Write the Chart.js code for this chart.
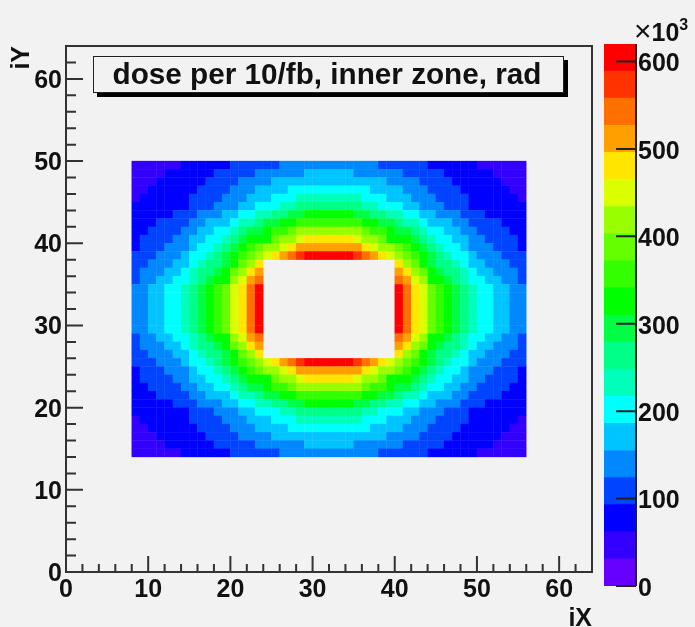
<!DOCTYPE html>
<html>
<head>
<meta charset="utf-8">
<script src="https://cdn.jsdelivr.net/npm/chart.js@4"></script>
<style>
  html, body { margin: 0; padding: 0; background: #f2f2f2; }
  #page { position: relative; width: 695px; height: 627px; overflow: hidden; filter: blur(0.6px); font-family: "Liberation Sans", Arial, sans-serif; font-weight: bold; color: #111; }
  canvas { position: absolute; }
  #mapTitle { position: absolute; left: 93px; top: 56px; width: 466px; height: 35px; padding-right: 3px; border: 1.5px solid #222; box-shadow: 4px 4px 0 #000; background: #f2f2f2; text-align: center; font-size: 29.7px; line-height: 33px; white-space: nowrap; }
  #barExponent { position: absolute; left: 634px; top: 19px; font-size: 25px; line-height: 26px; white-space: nowrap; }
  #barExponent span { font-weight: normal; font-size: 30px; line-height: 0; }
  #barExponent sup { font-size: 16px; line-height: 0; vertical-align: 11px; }
</style>
</head>
<body>
<div id="page">
  <canvas id="mapChart" width="695" height="627" style="left:0;top:0"></canvas>
  <canvas id="barChart" width="99" height="583" style="left:596px;top:20px"></canvas>
  <div id="mapTitle">dose per 10/fb, inner zone, rad</div>
  <div id="barExponent"><span>×</span>10<sup>3</sup></div>
</div>
<script>
// bin numbers along each axis
const ixBins = [8,9,10,11,12,13,14,15,16,17,18,19,20,21,22,23,24,25,26,27,28,29,30,31,32,33,34,35,36,37,38,39,40,41,42,43,44,45,46,47,48,49,50,51,52,53,54,55]
const iyBins = [49,48,47,46,45,44,43,42,41,40,39,38,37,36,35,34,33,32,31,30,29,28,27,26,25,24,23,22,21,20,19,18,17,16,15,14]

// dose in units of 10^3 rad, one row per iY (top row first), null = no crystal
const doseRows = [
[47,47,47,47,47,47,78,78,78,78,78,78,109,109,109,109,109,109,140,140,140,140,140,140,140,140,140,140,140,140,109,109,109,109,109,109,78,78,78,78,78,78,47,47,47,47,47,47],
[47,47,47,47,78,78,78,78,78,78,109,109,109,109,109,140,140,140,140,140,140,171,171,171,171,171,171,140,140,140,140,140,140,109,109,109,109,109,78,78,78,78,78,78,47,47,47,47],
[47,47,47,78,78,78,78,78,78,109,109,109,109,140,140,140,140,171,171,171,171,171,171,171,171,171,171,171,171,171,171,140,140,140,140,109,109,109,109,78,78,78,78,78,78,47,47,47],
[47,47,78,78,78,78,78,78,109,109,109,109,140,140,140,171,171,171,171,202,202,202,202,202,202,202,202,202,202,171,171,171,171,140,140,140,109,109,109,109,78,78,78,78,78,78,47,47],
[47,78,78,78,78,78,78,109,109,109,109,140,140,140,171,171,171,202,202,202,233,233,233,233,233,233,233,233,202,202,202,171,171,171,140,140,140,109,109,109,109,78,78,78,78,78,78,47],
[78,78,78,78,78,78,78,109,109,109,140,140,140,171,171,202,202,202,233,233,264,264,264,264,264,264,264,264,233,233,202,202,202,171,171,140,140,140,109,109,109,78,78,78,78,78,78,78],
[78,78,78,78,78,109,109,109,140,140,140,171,171,202,202,233,233,264,264,295,295,326,326,326,326,326,326,295,295,264,264,233,233,202,202,171,171,140,140,140,109,109,109,78,78,78,78,78],
[78,78,78,109,109,109,109,140,140,171,171,171,202,233,233,264,295,295,326,326,357,357,357,357,357,357,357,357,326,326,295,295,264,233,233,202,171,171,171,140,140,109,109,109,109,78,78,78],
[78,78,109,109,109,109,140,140,171,171,202,202,233,264,295,295,326,357,357,388,419,419,419,419,419,419,419,419,388,357,357,326,295,295,264,233,202,202,171,171,140,140,109,109,109,109,78,78],
[78,109,109,109,109,140,140,171,171,202,202,233,264,295,326,326,326,388,419,419,450,481,481,481,481,481,481,450,419,419,388,326,326,326,295,264,233,202,202,171,171,140,140,109,109,109,109,78],
[78,109,109,109,140,140,140,171,202,202,233,264,295,326,357,388,419,419,450,481,512,512,512,512,512,512,512,512,481,450,419,419,388,357,326,295,264,233,202,202,171,140,140,140,109,109,109,78],
[109,109,109,140,140,140,171,202,202,233,264,295,326,357,388,419,450,481,512,543,574,605,605,605,605,605,605,574,543,512,481,450,419,388,357,326,295,264,233,202,202,171,140,140,140,109,109,109],
[109,109,140,140,140,171,171,202,233,264,264,295,326,388,419,481,null,null,null,null,null,null,null,null,null,null,null,null,null,null,null,null,481,419,388,326,295,264,264,233,202,171,171,140,140,140,109,109],
[109,140,140,140,171,171,202,233,264,264,295,326,388,419,481,512,null,null,null,null,null,null,null,null,null,null,null,null,null,null,null,null,512,481,419,388,326,295,264,264,233,202,171,171,140,140,140,109],
[109,140,140,171,171,202,202,233,264,295,326,326,419,450,512,543,null,null,null,null,null,null,null,null,null,null,null,null,null,null,null,null,543,512,450,419,326,326,295,264,233,202,202,171,171,140,140,109],
[140,140,171,171,202,202,233,264,295,326,357,388,450,481,543,605,null,null,null,null,null,null,null,null,null,null,null,null,null,null,null,null,605,543,481,450,388,357,326,295,264,233,202,202,171,171,140,140],
[140,140,171,171,202,202,233,264,295,326,357,388,450,481,543,605,null,null,null,null,null,null,null,null,null,null,null,null,null,null,null,null,605,543,481,450,388,357,326,295,264,233,202,202,171,171,140,140],
[140,140,171,171,202,202,233,264,295,326,357,388,450,481,543,605,null,null,null,null,null,null,null,null,null,null,null,null,null,null,null,null,605,543,481,450,388,357,326,295,264,233,202,202,171,171,140,140],
[140,140,171,171,202,202,233,264,295,326,357,388,450,481,543,605,null,null,null,null,null,null,null,null,null,null,null,null,null,null,null,null,605,543,481,450,388,357,326,295,264,233,202,202,171,171,140,140],
[140,140,171,171,202,202,233,264,295,326,357,388,450,481,543,605,null,null,null,null,null,null,null,null,null,null,null,null,null,null,null,null,605,543,481,450,388,357,326,295,264,233,202,202,171,171,140,140],
[140,140,171,171,202,202,233,264,295,326,357,388,450,481,543,605,null,null,null,null,null,null,null,null,null,null,null,null,null,null,null,null,605,543,481,450,388,357,326,295,264,233,202,202,171,171,140,140],
[109,140,140,171,171,202,202,233,264,295,326,326,419,450,512,543,null,null,null,null,null,null,null,null,null,null,null,null,null,null,null,null,543,512,450,419,326,326,295,264,233,202,202,171,171,140,140,109],
[109,140,140,140,171,171,202,233,264,264,295,326,388,419,481,512,null,null,null,null,null,null,null,null,null,null,null,null,null,null,null,null,512,481,419,388,326,295,264,264,233,202,171,171,140,140,140,109],
[109,109,140,140,140,171,171,202,233,264,264,295,326,388,419,481,null,null,null,null,null,null,null,null,null,null,null,null,null,null,null,null,481,419,388,326,295,264,264,233,202,171,171,140,140,140,109,109],
[109,109,109,140,140,140,171,202,202,233,264,295,326,357,388,419,450,481,512,543,574,605,605,605,605,605,605,574,543,512,481,450,419,388,357,326,295,264,233,202,202,171,140,140,140,109,109,109],
[78,109,109,109,140,140,140,171,202,202,233,264,295,326,357,388,419,419,450,481,512,512,512,512,512,512,512,512,481,450,419,419,388,357,326,295,264,233,202,202,171,140,140,140,109,109,109,78],
[78,109,109,109,109,140,140,171,171,202,202,233,264,295,326,326,326,388,419,419,450,481,481,481,481,481,481,450,419,419,388,326,326,326,295,264,233,202,202,171,171,140,140,109,109,109,109,78],
[78,78,109,109,109,109,140,140,171,171,202,202,233,264,295,295,326,357,357,388,419,419,419,419,419,419,419,419,388,357,357,326,295,295,264,233,202,202,171,171,140,140,109,109,109,109,78,78],
[78,78,78,109,109,109,109,140,140,171,171,171,202,233,233,264,295,295,326,326,357,357,357,357,357,357,357,357,326,326,295,295,264,233,233,202,171,171,171,140,140,109,109,109,109,78,78,78],
[78,78,78,78,78,109,109,109,140,140,140,171,171,202,202,233,233,264,264,295,295,326,326,326,326,326,326,295,295,264,264,233,233,202,202,171,171,140,140,140,109,109,109,78,78,78,78,78],
[78,78,78,78,78,78,78,109,109,109,140,140,140,171,171,202,202,202,233,233,264,264,264,264,264,264,264,264,233,233,202,202,202,171,171,140,140,140,109,109,109,78,78,78,78,78,78,78],
[47,78,78,78,78,78,78,109,109,109,109,140,140,140,171,171,171,202,202,202,233,233,233,233,233,233,233,233,202,202,202,171,171,171,140,140,140,109,109,109,109,78,78,78,78,78,78,47],
[47,47,78,78,78,78,78,78,109,109,109,109,140,140,140,171,171,171,171,202,202,202,202,202,202,202,202,202,202,171,171,171,171,140,140,140,109,109,109,109,78,78,78,78,78,78,47,47],
[47,47,47,78,78,78,78,78,78,109,109,109,109,140,140,140,140,171,171,171,171,171,171,171,171,171,171,171,171,171,171,140,140,140,140,109,109,109,109,78,78,78,78,78,78,47,47,47],
[47,47,47,47,78,78,78,78,78,78,109,109,109,109,109,140,140,140,140,140,140,171,171,171,171,171,171,140,140,140,140,140,140,109,109,109,109,109,78,78,78,78,78,78,47,47,47,47],
[47,47,47,47,47,47,78,78,78,78,78,78,109,109,109,109,109,109,140,140,140,140,140,140,140,140,140,140,140,140,109,109,109,109,109,109,78,78,78,78,78,78,47,47,47,47,47,47]
]

// colour bar: 20 levels of 31 x 10^3 rad, bottom level first
const levelWidths = [31,31,31,31,31,31,31,31,31,31,31,31,31,31,31,31,31,31,31,31]
const levelColors = ["#6600ff","#3300ff","#0000ff","#0044ff","#0088ff","#00c4ff","#00ffff","#00ffbb","#00ff88","#00ff44","#00ff00","#33ff00","#66ff00","#99ff00","#d9ff00","#ffe600","#ffa000","#ff7000","#ff3300","#ff0000"]

const tickFont = { family: "'Liberation Sans', Arial, sans-serif", size: 25, weight: "bold" }
const inkColor = "#111"

function colorForDose(dose){
    return levelColors[Math.min(Math.floor(dose / 31), levelColors.length - 1)]
}

let cells = []
doseRows.forEach((row, r) => {
    row.forEach((dose, c) => {
        if (dose !== null){
            cells.push({ x: ixBins[c] + 0.5, y: iyBins[r] + 0.5, dose: dose })
        }
    })
})

// root style frame with ticks pointing into the plot
const frameTicks = {
    id: "frameTicks",
    afterDraw(chart){
        const { ctx, chartArea: a, scales } = chart
        ctx.save()
        ctx.strokeStyle = "#333"
        ctx.lineWidth = 2
        ctx.strokeRect(a.left, a.top, a.width, a.height)
        ctx.beginPath()
        scales.x.ticks.forEach((t) => {
            const px = scales.x.getPixelForValue(t.value)
            ctx.moveTo(px, a.bottom)
            ctx.lineTo(px, a.bottom - (t.value % 10 === 0 ? 16 : 8))
        })
        scales.y.ticks.forEach((t) => {
            const py = scales.y.getPixelForValue(t.value)
            ctx.moveTo(a.left, py)
            ctx.lineTo(a.left + (t.value % 10 === 0 ? 17 : 10), py)
        })
        ctx.stroke()
        ctx.restore()
    }
}

function axisOptions(position){
    return {
        type: "linear",
        position: position,
        min: 0,
        max: 64,
        grid: { display: false, drawTicks: false },
        border: { display: false },
        ticks: {
            stepSize: 2,
            autoSkip: false,
            maxRotation: 0,
            font: tickFont,
            color: inkColor,
            callback: (v) => (v % 10 === 0 ? String(v) : "")
        }
    }
}

const xAxis = axisOptions("bottom")
xAxis.afterFit = (s) => { s.height = 55 }
xAxis.ticks.padding = 3
xAxis.title = { display: true, text: "iX", align: "end", font: { ...tickFont, lineHeight: 0.65 }, color: inkColor, padding: 0 }

const yAxis = axisOptions("left")
yAxis.afterFit = (s) => { s.width = 66 }
yAxis.ticks.padding = 4
yAxis.ticks.labelOffset = 2
yAxis.title = { display: true, text: "iY", align: "end", font: tickFont, color: inkColor, padding: { top: 7, bottom: 0 } }

new Chart(document.getElementById("mapChart"), {
    type: "scatter",
    data: {
        datasets: [{
            data: cells,
            pointStyle: "rect",
            pointRadius: (c) => {
                const s = c.chart.scales.x
                return (s.getPixelForValue(1) - s.getPixelForValue(0) + 0.4) * Math.SQRT1_2
            },
            pointBackgroundColor: (c) => colorForDose(c.raw.dose),
            pointBorderWidth: 0
        }]
    },
    options: {
        responsive: false,
        animation: false,
        events: [],
        layout: { padding: { top: 46, right: 103, left: 0, bottom: 0 } },
        plugins: { legend: { display: false }, tooltip: { enabled: false } },
        scales: { x: xAxis, y: yAxis }
    },
    plugins: [frameTicks]
})

const barTicks = {
    id: "barTicks",
    afterDraw(chart){
        const { ctx, chartArea: a, scales } = chart
        ctx.save()
        ctx.strokeStyle = "#222"
        ctx.lineWidth = 2
        ctx.beginPath()
        ctx.moveTo(a.right, a.top)
        ctx.lineTo(a.right, a.bottom)
        scales.y.ticks.forEach((t) => {
            const py = scales.y.getPixelForValue(t.value)
            ctx.moveTo(a.right, py)
            ctx.lineTo(a.right - 20, py)
        })
        ctx.stroke()
        ctx.restore()
    }
}

new Chart(document.getElementById("barChart"), {
    type: "bar",
    data: {
        labels: [""],
        datasets: levelWidths.map((w, i) => ({
            data: [w],
            backgroundColor: levelColors[i],
            barPercentage: 1,
            categoryPercentage: 1
        }))
    },
    options: {
        responsive: false,
        animation: false,
        events: [],
        layout: { padding: { top: 24, right: 0, left: 8, bottom: 0 } },
        plugins: { legend: { display: false }, tooltip: { enabled: false } },
        scales: {
            x: { stacked: true, display: false },
            y: {
                stacked: true,
                position: "right",
                min: 0,
                max: 620,
                grid: { display: false, drawTicks: false },
                border: { display: false },
                afterFit: (s) => { s.width = 59 },
                ticks: { stepSize: 100, includeBounds: false, padding: 2, labelOffset: 3, font: tickFont, color: inkColor }
            }
        }
    },
    plugins: [barTicks]
})
</script>
</body>
</html>
